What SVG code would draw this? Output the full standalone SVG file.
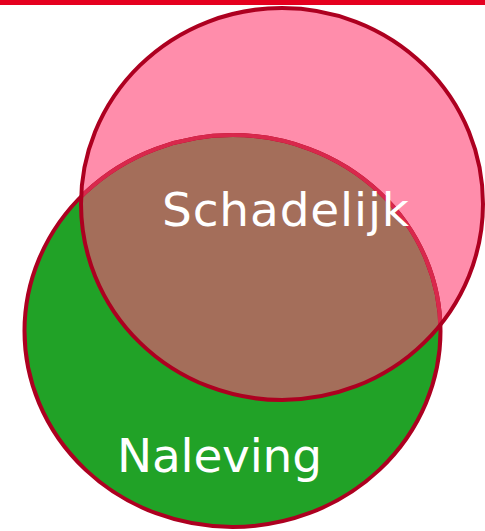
<svg xmlns="http://www.w3.org/2000/svg" width="485" height="531" viewBox="0 0 485 531">
<style>
.lbl{font-family:"DejaVu Sans",Verdana,sans-serif;font-size:47px;fill:#ffffff}
.edge{fill:none;stroke:#ad0020;stroke-width:4}
</style>
<defs>
<clipPath id="pinkClip"><ellipse cx="282" cy="204" rx="201" ry="196"/></clipPath>
</defs>
<rect x="0" y="0" width="485" height="5" fill="#e5001f"/>
<g id="schadelijk">
<ellipse cx="282" cy="204" rx="201" ry="196" fill="#ff8dab"/>
</g>
<g id="naleving">
<ellipse cx="232.5" cy="331" rx="208" ry="196" fill="#21a227"/>
<ellipse cx="232.5" cy="331" rx="208" ry="196" fill="#a46e5a" clip-path="url(#pinkClip)"/>
<ellipse class="edge" cx="232.5" cy="331" rx="208" ry="196"/>
<ellipse cx="232.5" cy="331" rx="208" ry="196" fill="none" stroke="#d8284c" stroke-width="4" clip-path="url(#pinkClip)"/>
<text class="lbl" x="117" y="472" textLength="205">Naleving</text>
</g>
<g id="schadelijk-outline">
<ellipse class="edge" cx="282" cy="204" rx="201" ry="196"/>
<text class="lbl" x="162" y="226" textLength="247">Schadelijk</text>
</g>
</svg>
